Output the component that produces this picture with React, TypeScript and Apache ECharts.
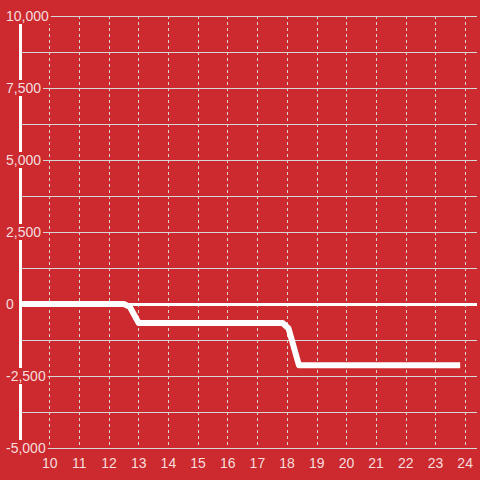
import React, { useEffect, useRef } from "react";
import * as echarts from "echarts";

const xValues = [9, 12.5, 12.7, 13, 17.85, 18.05, 18.4, 23.833];
const yValues = [0, 0, -100, -660, -660, -850, -2125, -2125];
const yTicks = [-5000, -2500, 0, 2500, 5000, 7500, 10000];
const xTickLabels = [10, 11, 12, 13, 14, 15, 16, 17, 18, 19, 20, 21, 22, 23, 24];

const BG = "#cc2a2f";
const TEXT = "rgba(255,255,255,0.85)";
const GRID = "#d6d6d6";
const FONT = "'Liberation Sans', Arial, sans-serif";

export default function App() {
  const ref = useRef<HTMLDivElement>(null);
  useEffect(() => {
    if (!ref.current) return;
    const chart = echarts.init(ref.current, null, { renderer: "svg" });
    chart.setOption({
      animation: false,
      backgroundColor: BG,
      textStyle: { fontFamily: FONT },
      grid: { left: 20, right: -2, top: 16, bottom: 32, containLabel: false },
      xAxis: {
        type: "value",
        min: 9,
        max: 9 + 462 / 30,
        interval: 1,
        axisLine: { show: false, onZero: false },
        axisTick: { show: false },
        axisLabel: {
          color: TEXT,
          fontSize: 14,
          fontFamily: FONT,
          margin: 8,
          formatter: (v: number) =>
            xTickLabels.includes(Math.round(v * 1000) / 1000) ? String(v) : "",
        },
        splitLine: {
          show: true,
          showMaxLine: false,
          lineStyle: { color: GRID, type: [3, 3], width: 1 },
        },
      },
      yAxis: {
        type: "value",
        min: yTicks[0],
        max: yTicks[yTicks.length - 1],
        interval: 2500,
        axisLine: { show: true, lineStyle: { color: "#ffffff", width: 3 } },
        axisTick: { show: false },
        minorTick: { show: false, splitNumber: 2 },
        minorSplitLine: { show: true, lineStyle: { color: GRID, width: 1 } },
        splitLine: { show: true, lineStyle: { color: GRID, width: 1 } },
        axisLabel: {
          color: TEXT,
          fontSize: 14,
          fontFamily: FONT,
          align: "left",
          margin: 16,
          backgroundColor: BG,
          padding: [1, 2, 1, 2],
          lineHeight: 14,
          formatter: (v: number) => v.toLocaleString("en-US"),
        },
      },
      series: [
        {
          type: "line",
          data: xValues.map((x, i) => [x, yValues[i]]),
          showSymbol: false,
          symbol: "none",
          lineStyle: { color: "#ffffff", width: 6, join: "round", cap: "butt" },
          z: 5,
          markLine: {
            silent: true,
            symbol: "none",
            label: { show: false },
            lineStyle: { color: "#ffffff", width: 3, type: "solid" },
            data: [{ yAxis: 0 }],
          },
        },
      ],
    });
    return () => chart.dispose();
  }, []);
  return (
    <div
      ref={ref}
      style={{ position: "fixed", left: 0, top: 0, width: 480, height: 480 }}
    />
  );
}
